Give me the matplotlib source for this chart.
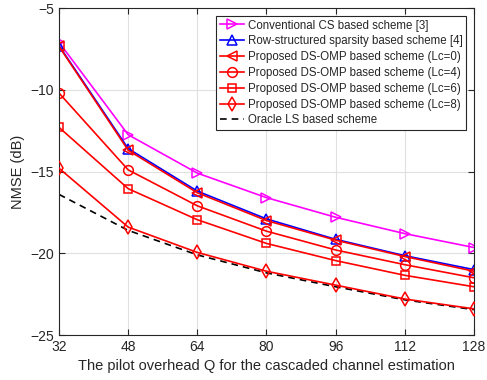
import matplotlib
matplotlib.use("Agg")
import matplotlib.pyplot as plt

plt.rcParams['font.family'] = ['Liberation Sans', 'DejaVu Sans']
plt.rcParams['text.color'] = '#262626'
plt.rcParams['axes.labelcolor'] = '#262626'
plt.rcParams['xtick.color'] = '#262626'
plt.rcParams['ytick.color'] = '#262626'
plt.rcParams['axes.edgecolor'] = '#262626'

Q = [32, 48, 64, 80, 96, 112, 128]
conv_cs = [-7.1, -12.75, -15.1, -16.6, -17.8, -18.8, -19.65]
row_struct = [-7.3, -13.6, -16.2, -17.9, -19.15, -20.15, -21.0]
ds_lc0 = [-7.35, -13.7, -16.3, -18.0, -19.2, -20.2, -21.1]
ds_lc4 = [-10.2, -14.9, -17.1, -18.65, -19.8, -20.7, -21.5]
ds_lc6 = [-12.3, -16.05, -17.95, -19.4, -20.45, -21.35, -22.05]
ds_lc8 = [-14.8, -18.4, -19.95, -21.1, -21.95, -22.8, -23.4]
oracle = [-16.4, -18.6, -20.1, -21.2, -22.05, -22.85, -23.45]

labels = ["Conventional CS based scheme [3]",
          "Row-structured sparsity based scheme [4]",
          "Proposed DS-OMP based scheme (Lc=0)",
          "Proposed DS-OMP based scheme (Lc=4)",
          "Proposed DS-OMP based scheme (Lc=6)",
          "Proposed DS-OMP based scheme (Lc=8)",
          "Oracle LS based scheme"]

fig = plt.figure(figsize=(4.87, 3.8), dpi=100)
ax = fig.add_axes([59/487, 1-335/380, (474-59)/487, (335-8)/380])

lw = 1.2
ms = 7
mew = 1.1
ax.plot(Q, conv_cs, color='#ff00ff', marker='>', mfc='none', ms=ms, lw=lw, mew=mew, label=labels[0])
ax.plot(Q, row_struct, color='#0000ff', marker='^', mfc='none', ms=ms, lw=lw, mew=mew, label=labels[1])
ax.plot(Q, ds_lc0, color='#ff0000', marker='<', mfc='none', ms=ms, lw=lw, mew=mew, label=labels[2])
ax.plot(Q, ds_lc4, color='#ff0000', marker='o', mfc='none', ms=ms, lw=lw, mew=mew, label=labels[3])
ax.plot(Q, ds_lc6, color='#ff0000', marker='s', mfc='none', ms=5.5, lw=lw, mew=mew, label=labels[4])
ax.plot(Q, oracle, color='black', ls=(0, (4, 3)), lw=lw, label=labels[6], zorder=2)
ax.plot(Q, ds_lc8, color='#ff0000', marker='d', mfc='none', ms=ms, lw=lw, mew=mew, label=labels[5], zorder=3)

ax.set_xlim(32, 128)
ax.set_ylim(-25, -5)
ax.set_xticks(Q)
ax.set_yticks([-25, -20, -15, -10, -5])
ax.grid(True, color='#e0e0e0', lw=0.8)
ax.set_axisbelow(True)
ax.tick_params(direction='in', top=True, right=True, labelsize=10, length=4)
for s in ax.spines.values():
    s.set_linewidth(0.8)
ax.set_xlabel("The pilot overhead Q for the cascaded channel estimation", fontsize=10.5)
ax.set_ylabel("NMSE (dB)", fontsize=10.5)

h, l = ax.get_legend_handles_labels()
hd = dict(zip(l, h))
leg = ax.legend([hd[x] for x in labels], labels, loc='upper right', fontsize=8.3,
                fancybox=False, edgecolor='#262626', framealpha=1, borderaxespad=0.7,
                handlelength=2.1, labelspacing=0.33, borderpad=0.3, handletextpad=0.3)
leg.get_frame().set_linewidth(0.8)

fig.savefig("out.png", dpi=100)
